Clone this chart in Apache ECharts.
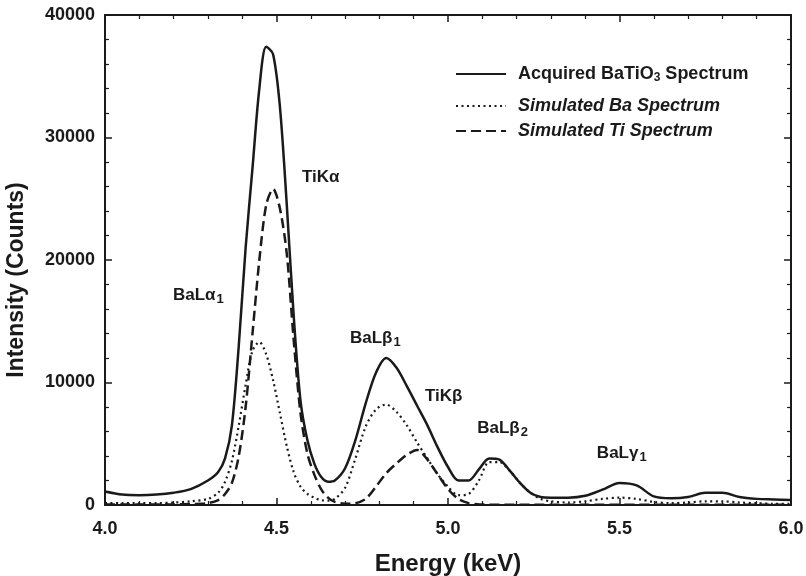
<!DOCTYPE html>
<html><head><meta charset="utf-8">
<script src="https://cdn.jsdelivr.net/npm/echarts/dist/echarts.min.js"></script>
<style>html,body{margin:0;padding:0;background:#fff}#c{width:806px;height:576px}</style>
</head><body><div id="c"></div>
<script>
const energy = [4.00,4.05,4.10,4.15,4.20,4.25,4.30,4.33,4.35,
  4.37,4.39,4.41,4.43,4.45,4.47,4.49,4.51,4.53,4.55,4.57,4.59,4.61,4.63,4.65,4.67,
  4.70,4.73,4.76,4.79,4.82,4.85,4.88,4.91,4.94,4.97,5.00,5.03,5.06,5.09,5.12,5.15,5.18,5.21,5.24,5.27,5.30,
  5.35,5.40,5.45,5.50,5.55,5.60,5.65,5.70,5.75,5.80,5.85,5.90,5.95,6.00];
const acquired = [1100,850,800,850,1000,1300,2000,2700,3800,
  6500,13000,21000,27500,34000,37400,36800,32500,24500,15500,8500,5300,3400,2300,1900,2000,
  3000,5300,8300,10800,12000,11200,9700,8100,6500,4700,3100,2000,2000,2900,3800,3700,2800,1800,1000,650,600,
  600,750,1250,1800,1600,700,550,650,1000,1000,650,500,450,400];
const simBa = [150,150,150,150,200,300,500,1000,1900,
  3600,6500,9800,12600,13300,12300,10200,7500,4800,2700,1500,900,600,400,350,500,
  1400,3800,6400,7800,8200,7600,6500,5100,3800,2500,1500,800,900,2000,3500,3500,2800,1800,1000,500,300,
  200,300,500,600,500,250,150,200,300,300,200,150,100,100];
const simTi = [50,50,50,50,50,80,150,400,900,
  1800,4000,8000,14000,20000,24500,25800,24200,20500,13500,7500,4200,2500,1300,600,250,
  100,150,500,1500,2600,3400,4100,4500,3700,2500,1300,500,150,50,30,30,30,30,30,30,30,
  30,30,30,30,30,30,30,30,30,30,30,30,30,30];
const seriesNames = ['Acquired BaTiO3 Spectrum','Simulated Ba Spectrum','Simulated Ti Spectrum'];
const xTicks = {min:4, max:6, interval:0.5};
const yTicks = {min:0, max:40000, interval:10000};
// peak annotations: [main, subscript, energy, counts] (left edge / vertical centre)
const peakLabels = [
  ['TiK\u03b1','',4.574,26780],
  ['BaL\u03b1','1',4.198,17140],
  ['BaL\u03b2','1',4.714,13630],
  ['TiK\u03b2','',4.933,8900],
  ['BaL\u03b2','2',5.085,6290],
  ['BaL\u03b3','1',5.434,4245]
];

const FONT = "'Liberation Sans', Arial, sans-serif";
const INK = '#1a1a1a';
const chart = echarts.init(document.getElementById('c'), null, {renderer:'canvas'});
const pair = arr => energy.map((e,i)=>[e,arr[i]]);

function axisCommon(showLabel){
  return {
    axisLine:{show:true,onZero:false,lineStyle:{color:INK,width:2}},
    axisTick:{show:true,inside:true,length:7,lineStyle:{color:INK,width:1.5}},
    minorTick:{show:true,splitNumber:5,length:4,lineStyle:{color:INK,width:1.2}},
    splitLine:{show:false},
    axisLabel:{show:showLabel,color:INK,fontFamily:FONT,fontWeight:'bold',fontSize:18}
  };
}
const xa = (pos,lab)=>Object.assign({type:'value',position:pos,min:xTicks.min,max:xTicks.max,interval:xTicks.interval},axisCommon(lab));
const ya = (pos,lab)=>Object.assign({type:'value',position:pos,min:yTicks.min,max:yTicks.max,interval:yTicks.interval},axisCommon(lab));

const xBottom = xa('bottom',true);
xBottom.axisLabel.formatter = v=>v.toFixed(1);
xBottom.axisLabel.margin = 15;
xBottom.name = 'Energy (keV)';
xBottom.nameLocation = 'middle';
xBottom.nameGap = 47;
xBottom.nameTextStyle = {fontFamily:FONT,fontWeight:'bold',fontSize:24,color:INK};
const yLeft = ya('left',true);
yLeft.axisLabel.margin = 10;
yLeft.axisLabel.formatter = v=>String(v);

const legendRow = (i,top)=>({
  orient:'horizontal',left:455,top:top,itemWidth:50,itemHeight:10,
  data:[seriesNames[i]],
  itemStyle:{opacity:0},
  formatter:n=>{
    if(n===seriesNames[0]) return '{n0|Acquired BaTiO}{s|3}{n| Spectrum}';
    return '{i|'+n+'}';
  },
  textStyle:{color:INK,rich:{
    n0:{fontFamily:FONT,fontWeight:'bold',fontSize:18,color:INK,padding:[0,0,0,7]},
    n:{fontFamily:FONT,fontWeight:'bold',fontSize:18,color:INK},
    s:{fontFamily:FONT,fontWeight:'bold',fontSize:12,color:INK,padding:[8,0,0,0]},
    i:{fontFamily:FONT,fontWeight:'bold',fontStyle:'italic',fontSize:18,color:INK,padding:[0,0,0,7]}
  }},
  padding:[0,0,0,0]
});

const lineBase = {type:'line',symbol:'none',showSymbol:false,smooth:0.3,xAxisIndex:0,yAxisIndex:0,animation:false};
chart.setOption({
  backgroundColor:'#fff',
  animation:false,
  grid:{left:105,right:15,top:15,bottom:71,containLabel:false,outerBoundsMode:'none'},
  xAxis:[xBottom, xa('top',false)],
  yAxis:[yLeft, ya('right',false)],
  legend:[legendRow(0,65),legendRow(1,97),legendRow(2,122)],
  series:[
    Object.assign({},lineBase,{name:seriesNames[0],data:pair(acquired),z:3,
      lineStyle:{color:INK,width:2.5,type:'solid'},itemStyle:{color:INK}}),
    Object.assign({},lineBase,{name:seriesNames[1],data:pair(simBa),z:2,
      lineStyle:{color:INK,width:2.2,type:[2,3.5]},itemStyle:{color:INK}}),
    Object.assign({},lineBase,{name:seriesNames[2],data:pair(simTi),z:2,
      lineStyle:{color:INK,width:2.5,type:[10,5]},itemStyle:{color:INK}})
  ]
});

const graphics = peakLabels.map(([main,sub,e,c])=>{
  const p = chart.convertToPixel({xAxisIndex:0,yAxisIndex:0},[e,c]);
  return {type:'text',x:p[0],y:p[1],silent:true,
    style:{text: sub ? '{m|'+main+'}{s|'+sub+'}' : '{m|'+main+'}',
      verticalAlign:'middle',
      rich:{m:{fontFamily:FONT,fontSize:17,fontWeight:'bold',fill:INK},
            s:{fontFamily:FONT,fontSize:13,fontWeight:'bold',fill:INK,padding:[8,0,0,1]}}}};
});
graphics.push({type:'text',x:17,y:280,rotation:Math.PI/2,silent:true,
  style:{text:'Intensity (Counts)',fontFamily:FONT,fontWeight:'bold',fontSize:23,fill:INK,
    align:'center',verticalAlign:'middle'}});
chart.setOption({graphic:graphics});
</script></body></html>
